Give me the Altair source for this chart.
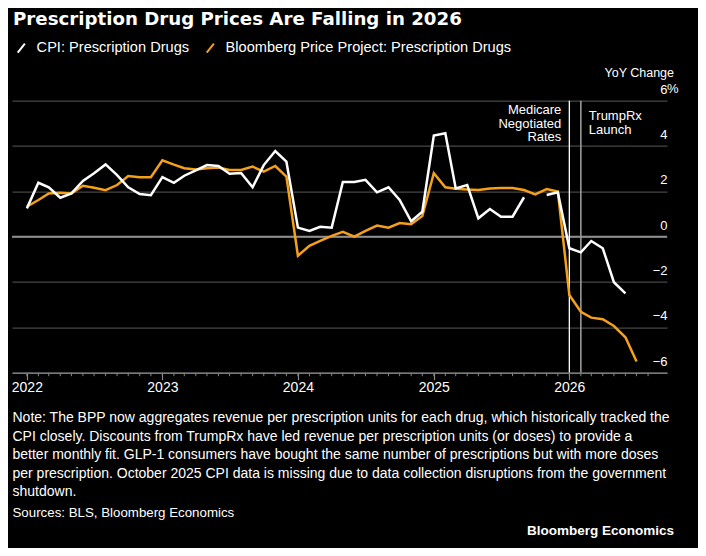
import altair as alt
import pandas as pd

# ---------------- data ----------------
months = pd.date_range("2022-01-01", "2026-07-01", freq="MS").strftime("%Y-%m-%d").tolist()

# CPI: Prescription Drugs, YoY % (Jan 2022 - Jun 2026); Oct 2025 missing
cpi = [1.25, 2.38, 2.18, 1.72, 1.91, 2.46, 2.80, 3.19, 2.72, 2.18, 1.88, 1.83,
       2.63, 2.38, 2.69, 2.93, 3.16, 3.12, 2.78, 2.81, 2.18, 3.16, 3.78, 3.31,
       0.40, 0.25, 0.44, 0.40, 2.41, 2.41, 2.51, 1.96, 2.18, 1.62, 0.68, 1.10,
       4.46, 4.56, 2.13, 2.28, 0.81, 1.22, 0.88, 0.88, 1.74, None, 1.84, 1.96,
       -0.51, -0.69, -0.19, -0.51, -2.01, -2.50]

# Bloomberg Price Project: Prescription Drugs, YoY % (Jan 2022 - Jul 2026)
bpp = [1.32, 1.62, 1.91, 1.94, 1.91, 2.25, 2.16, 2.05, 2.28, 2.68, 2.62, 2.62,
       3.37, 3.18, 3.02, 2.97, 3.02, 3.05, 2.94, 2.94, 3.09, 2.87, 3.12, 2.65,
       -0.84, -0.40, -0.18, 0.04, 0.21, 0.00, 0.26, 0.49, 0.40, 0.60, 0.55, 0.91,
       2.80, 2.18, 2.12, 2.08, 2.06, 2.13, 2.15, 2.15, 2.06, 1.87, 2.10, 1.99,
       -2.57, -3.31, -3.57, -3.64, -3.94, -4.44, -5.51]

series_names = ["CPI: Prescription Drugs", "Bloomberg Price Project: Prescription Drugs"]
series_colors = ["#ffffff", "#f5a01a"]

year_ticks = [2022, 2023, 2024, 2025, 2026]
y_ticks = [-6, -4, -2, 0, 2, 4, 6]
minor_ticks = pd.date_range("2022-01-01", "2026-08-01", freq="MS").strftime("%Y-%m-%d").tolist()

event_dates = ["2026-01-01", "2026-02-01"]
event_labels = ["Medicare\nNegotiated\nRates", "TrumpRx\nLaunch"]

title_text = "Prescription Drug Prices Are Falling in 2026"
unit_text = "YoY Change"
note_lines = [
    "Note: The BPP now aggregates revenue per prescription units for each drug, which historically tracked the",
    "CPI closely. Discounts from TrumpRx have led revenue per prescription units (or doses) to provide a",
    "better monthly fit. GLP-1 consumers have bought the same number of prescriptions but with more doses",
    "per prescription. October 2025 CPI data is missing due to data collection disruptions from the government",
    "shutdown.",
]
source_text = "Sources: BLS, Bloomberg Economics"
brand_text = "Bloomberg Economics"

# ---------------- build table ----------------
rows = []
for name, vals in zip(series_names, [cpi, bpp]):
    seg = 0
    for d, v in zip(months, vals):
        if v is None:
            seg += 1
            continue
        rows.append({"date": d, "value": v, "series": name, "seg": f"{name}-{seg}"})
df = pd.DataFrame(rows)

FONT = "Liberation Sans, Arial, Helvetica, sans-serif"
W, H = 655, 272

def dt(y, m, d=1):
    return alt.DateTime(year=y, month=m, date=d, utc=True)

x_scale = alt.Scale(type="utc", domain=[dt(2021, 11, 22), dt(2026, 9, 21)])
y_scale = alt.Scale(domain=[-6, 6], nice=False)

x_axis = alt.Axis(values=[dt(y, 1) for y in year_ticks], format="%Y", title=None,
                  labelFont=FONT, labelFontSize=14, labelColor="#ffffff",
                  labelPadding=1, tickSize=7, tickColor="#8a8a8a", tickWidth=1.2,
                  domainColor="#7a7a7a", domainWidth=1.5, grid=False, zindex=1)
y_axis = alt.Axis(values=y_ticks, orient="right", title=None, grid=True,
                  gridColor="#474747", gridWidth=1.3, domain=False, ticks=False,
                  tickSize=0, labelAlign="right", labelPadding=0,
                  labelBaseline="middle", labelOffset=-11.5,
                  labelFont=FONT, labelFontSize=13, labelColor="#ffffff")

base = alt.Chart(df)

lines = base.mark_line(strokeWidth=2.5).encode(
    x=alt.X("date:T", scale=x_scale, axis=x_axis),
    y=alt.Y("value:Q", scale=y_scale, axis=y_axis),
    color=alt.Color("series:N",
                    scale=alt.Scale(domain=series_names, range=series_colors),
                    legend=alt.Legend(orient="none", legendX=2, legendY=-60,
                                      direction="horizontal", title=None,
                                      symbolType="M-0.8,1L0.8,-1", symbolSize=80,
                                      symbolStrokeWidth=2, labelFont=FONT,
                                      labelFontSize=14.6, labelColor="#ffffff",
                                      labelLimit=500, labelOffset=8,
                                      columnPadding=12, padding=0)),
    detail="seg:N",
    order=alt.Order("date:T"),
)
# draw orange beneath white
lines_orange = lines.transform_filter(alt.datum.series == series_names[1])
lines_white = lines.transform_filter(alt.datum.series == series_names[0])

zero = alt.Chart(pd.DataFrame({"v": [0]})).mark_rule(color="#8f8f8f", strokeWidth=2).encode(
    y=alt.Y("v:Q", scale=y_scale))

minor = alt.Chart(pd.DataFrame({"date": minor_ticks})).mark_rule(
    color="#8a8a8a", strokeWidth=1).encode(
    x=alt.X("date:T", scale=x_scale), y=alt.value(H), y2=alt.value(H + 3.5))

ev = pd.DataFrame({"date": event_dates, "label": event_labels})
ev_rule1 = alt.Chart(ev.iloc[[0]]).mark_rule(color="#ffffff", strokeWidth=1.3).encode(
    x=alt.X("date:T", scale=x_scale), y=alt.value(0), y2=alt.value(H))
ev_rule2 = alt.Chart(ev.iloc[[1]]).mark_rule(color="#9a9a9a", strokeWidth=1.6).encode(
    x=alt.X("date:T", scale=x_scale), y=alt.value(0), y2=alt.value(H))
ev_text1 = alt.Chart(ev.iloc[[0]]).mark_text(
    align="right", baseline="top", dx=-8, lineBreak="\n", lineHeight=13.5,
    font=FONT, fontSize=13, color="#ffffff").encode(
    x=alt.X("date:T", scale=x_scale), y=alt.value(3.5), text="label:N")
ev_text2 = alt.Chart(ev.iloc[[1]]).mark_text(
    align="left", baseline="top", dx=8, lineBreak="\n", lineHeight=14,
    font=FONT, fontSize=13, color="#ffffff").encode(
    x=alt.X("date:T", scale=x_scale), y=alt.value(9), text="label:N")

def txt(t, x, y, align="left", baseline="middle", size=13, bold=False, font=FONT, **kw):
    return alt.Chart(pd.DataFrame({"t": [t]})).mark_text(
        align=align, baseline=baseline, font=font, fontSize=size,
        fontWeight="bold" if bold else "normal", color="#ffffff", **kw).encode(
        x=alt.value(x), y=alt.value(y), text="t:N")

title = txt(title_text, 1, -75.7, baseline="alphabetic", size=18.2, bold=True,
            font="DejaVu Sans, Liberation Sans, sans-serif")
unit = txt(unit_text, 662, -27.7, align="right", size=12.5)
pct = alt.Chart(pd.DataFrame({"t": ["%"], "v": [6]})).mark_text(
    align="left", baseline="middle", dy=-11.5, font=FONT, fontSize=13, color="#ffffff").encode(
    x=alt.value(W), y=alt.Y("v:Q", scale=y_scale), text="t:N")
note = txt("\n".join(note_lines), 0.5, 321.3, baseline="alphabetic", size=14,
           lineBreak="\n", lineHeight=18.6)
source = txt(source_text, 0.5, 412.6, size=13.3)
brand = txt(brand_text, 662, 430.3, align="right", size=13.5, bold=True)

chart = alt.layer(
    zero, minor, ev_rule1, ev_rule2, lines_orange, lines_white,
    ev_text1, ev_text2, title, unit, pct, note, source, brand,
).properties(
    width=W, height=H,
    autosize=alt.AutoSizeParams(type="none"),
    padding={"left": 4, "top": 92.7, "right": 31, "bottom": 175.3},
    background="#000000",
).configure_view(strokeWidth=0)

chart.save("out.html", embed_options={"renderer": "svg", "actions": False})
